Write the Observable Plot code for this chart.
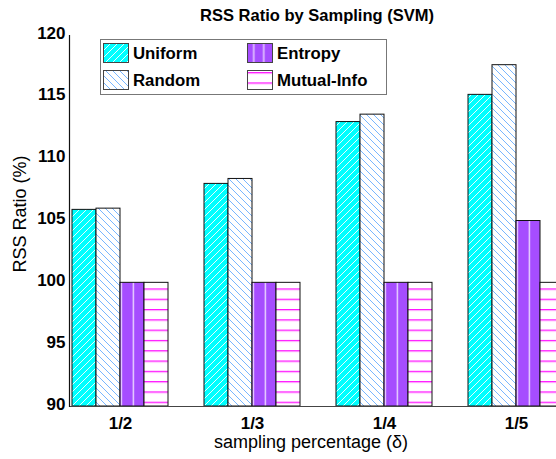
<!DOCTYPE html>
<html><head><meta charset="utf-8">
<script src="https://cdn.jsdelivr.net/npm/d3@7"></script>
<script src="https://cdn.jsdelivr.net/npm/@observablehq/plot@0.6"></script>
<style>
html,body{margin:0;padding:0;background:#fff;overflow:hidden;}
</style></head><body><div id="chart"></div>
<script>
const groups = ["1/2", "1/3", "1/4", "1/5"];
const series = ["Uniform", "Random", "Entropy", "Mutual-Info"];
const uniform = [105.9, 108.0, 113.0, 115.2];
const random  = [106.0, 108.4, 113.6, 117.6];
const entropy = [100.0, 100.0, 100.0, 105.0];
const mutual  = [100.0, 100.0, 100.0, 100.0];
const yTicks = [90, 95, 100, 105, 110, 115, 120];
const titleText = "RSS Ratio by Sampling (SVM)";
const xLabel = "sampling percentage (δ)";
const yLabel = "RSS Ratio (%)";

const patternIds = ["pU", "pR", "pE", "pM"];
const valuesBySeries = [uniform, random, entropy, mutual];
const rows = groups.flatMap((g, i) => series.map((s, j) => ({group: g, series: s, value: valuesBySeries[j][i]})));

const plot = Plot.plot({
  width: 556, height: 459,
  marginLeft: 69, marginRight: 0, marginTop: 35, marginBottom: 53,
  style: {fontFamily: "'Liberation Sans', Arial, Helvetica, sans-serif", fontSize: "17px", fontWeight: "bold", overflow: "hidden", background: "white", color: "black"},
  facet: {data: rows, x: "group", marginLeft: 0, marginRight: 0},
  fx: {domain: groups, range: [69.5, 565.5], paddingInner: 0.2613, paddingOuter: 0, axis: "bottom", label: null, tickSize: 0, tickPadding: 10},
  x: {domain: series, padding: 0, axis: null},
  y: {domain: [90, 120], ticks: yTicks, tickSize: 0, tickPadding: 6, label: null},
  color: {type: "ordinal", domain: series, range: patternIds.map(id => `url(#${id})`)},
  marks: [
    Plot.barY(rows, {x: "series", y1: 90, y2: "value", fill: "series", stroke: "#111", strokeWidth: 1, insetLeft: 0, insetRight: 0})
  ]
});

const svg = d3.select(plot);
const defs = svg.insert("defs", ":first-child");
// Uniform: cyan with white "/" hatch
const pU = defs.append("pattern").attr("id", "pU").attr("patternUnits", "userSpaceOnUse").attr("width", 7).attr("height", 7);
pU.append("rect").attr("width", 7).attr("height", 7).attr("fill", "#00ffff");
pU.append("path").attr("d", "M-1,1L1,-1M0,7L7,0M6,8L8,6").attr("stroke", "#ffffff").attr("stroke-width", 0.9);
// Random: white with blue "\" hatch
const pR = defs.append("pattern").attr("id", "pR").attr("patternUnits", "userSpaceOnUse").attr("width", 7).attr("height", 7);
pR.append("rect").attr("width", 7).attr("height", 7).attr("fill", "#ffffff");
pR.append("path").attr("d", "M-1,6L1,8M0,0L7,7M6,-1L8,1").attr("stroke", "#6aaeff").attr("stroke-width", 0.9);
// Entropy: purple with light vertical lines
const pE = defs.append("pattern").attr("id", "pE").attr("patternUnits", "objectBoundingBox").attr("width", 0.5).attr("height", 1);
pE.append("rect").attr("width", 100).attr("height", 2000).attr("fill", "#a64dff");
pE.append("rect").attr("x", 0.6).attr("width", 1.6).attr("height", 2000).attr("fill", "#e3c6ff");
const pEL = defs.append("pattern").attr("id", "pEL").attr("patternUnits", "objectBoundingBox").attr("width", 0.4).attr("height", 1);
pEL.append("rect").attr("width", 100).attr("height", 200).attr("fill", "#a64dff");
pEL.append("rect").attr("x", 5.5).attr("width", 1.6).attr("height", 200).attr("fill", "#e3c6ff");
// Mutual-Info: white with magenta horizontal lines
const pM = defs.append("pattern").attr("id", "pM").attr("patternUnits", "userSpaceOnUse").attr("width", 10).attr("height", 10.3);
pM.append("rect").attr("width", 10).attr("height", 10.3).attr("fill", "#ffffff");
pM.append("rect").attr("y", 0).attr("width", 10).attr("height", 1.2).attr("fill", "#ff10ff");
pM.append("rect").attr("y", 1.2).attr("width", 10).attr("height", 0.8).attr("fill", "#ff9cff");

// nudge y tick labels down slightly like the reference
svg.selectAll('[aria-label^="y-axis"] text').each(function() {
  const t = d3.select(this);
  t.attr("y", (+t.attr("y") || 0) + 3);
});

const y = plot.scale("y");
const y0 = y.apply(90), y1 = y.apply(120);
// baseline and y-axis line
svg.append("line").attr("x1", 69).attr("x2", 556).attr("y1", y0 + 0.5).attr("y2", y0 + 0.5).attr("stroke", "#444").attr("stroke-width", 1.2);
svg.append("line").attr("x1", 69.5).attr("x2", 69.5).attr("y1", y1).attr("y2", y0 + 1).attr("stroke", "#111").attr("stroke-width", 1.2);

// Title
svg.append("text").attr("x", 317).attr("y", 21).attr("text-anchor", "middle")
  .attr("font-size", 16.5).attr("font-weight", "bold").text(titleText);
// Axis labels
svg.append("text").attr("x", 311).attr("y", 448).attr("text-anchor", "middle")
  .attr("font-size", 18).attr("font-weight", "normal").text(xLabel);
svg.append("text").attr("transform", "translate(26,214) rotate(-90)").attr("text-anchor", "middle")
  .attr("font-size", 18).attr("font-weight", "normal").text(yLabel);

// Legend
const lg = svg.append("g").attr("font-size", 16.8).attr("font-weight", "bold").attr("text-anchor", "start");
lg.append("rect").attr("x", 100.5).attr("y", 39.5).attr("width", 286).attr("height", 55).attr("fill", "white").attr("stroke", "#777").attr("stroke-width", 1);
const legendPos = [[103, 43], [103, 70], [247, 43], [247, 70]];
const legendFill = ["url(#pU)", "url(#pR)", "url(#pEL)", "url(#pM)"];
series.forEach((s, i) => {
  const [lx, ly] = legendPos[i];
  lg.append("rect").attr("x", lx + 0.5).attr("y", ly + 0.5).attr("width", 25).attr("height", 19).attr("fill", legendFill[i]).attr("stroke", "#444").attr("stroke-width", 1);
  lg.append("text").attr("x", lx + 30).attr("y", ly + 16).attr("text-anchor", "start").text(s);
});

document.getElementById("chart").appendChild(plot);
</script>
</body></html>
